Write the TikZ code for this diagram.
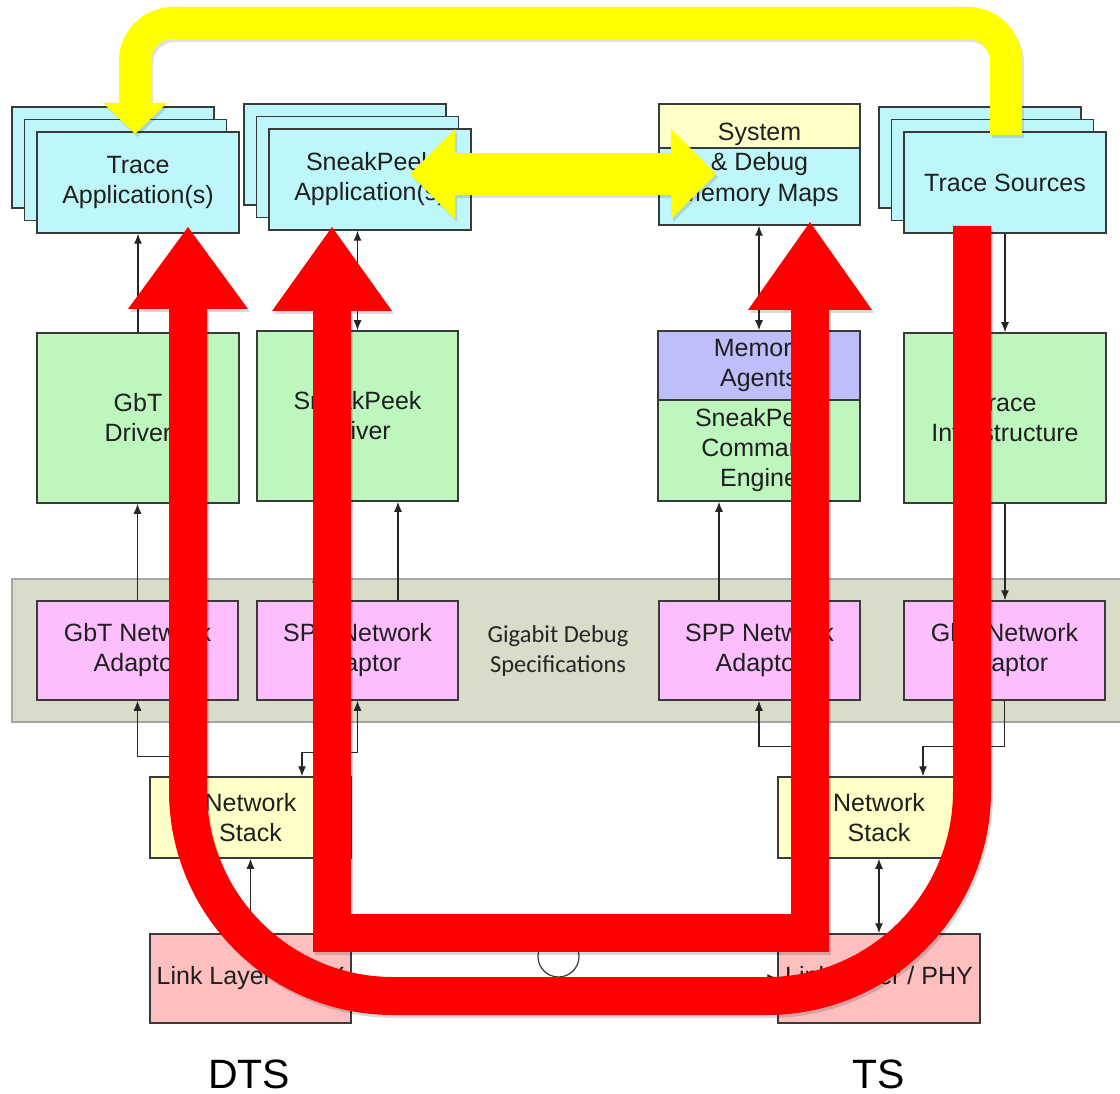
\documentclass[tikz,border=0pt]{standalone}
\usepackage{fontspec}
\setmainfont{Liberation Sans}
\newfontfamily\gigfont{Carlito}
\usetikzlibrary{arrows.meta}

\definecolor{edge}{RGB}{58,58,58}
\definecolor{appcyan}{RGB}{190,247,250}
\definecolor{drvgreen}{RGB}{190,247,190}
\definecolor{agtviolet}{RGB}{190,190,250}
\definecolor{adpmag}{RGB}{252,190,252}
\definecolor{stkyellow}{RGB}{255,255,200}
\definecolor{lnkpink}{RGB}{252,190,190}
\definecolor{bandgray}{RGB}{218,220,202}
\definecolor{routeyellow}{RGB}{255,255,0}
\definecolor{routered}{RGB}{255,0,0}

\tikzset{
  box/.style={draw=edge, line width=1.5pt, inner sep=0pt, align=center,
    text=black!88, font=\fontsize{25}{30}\selectfont, minimum width=202pt},
  arr/.style={draw=black!85, line width=1.2pt, -{Latex[length=10pt,width=8pt]}},
  darr/.style={draw=black!85, line width=1.2pt, {Latex[length=10pt,width=8pt]}-{Latex[length=10pt,width=8pt]}},
  side/.style={font=\fontsize{41}{41}\selectfont, text=black, inner sep=0pt},
}

% thick overlay routes, drawn once as shadow and once in colour
\newcommand\outerroute[1]{\draw[line width=38pt, rounded corners=205pt,
  -{Triangle[length=82pt,width=120pt,line width=0pt]}, #1]
  (972,226) -- (972,996) -- (188,996) -- (188,227);}
\newcommand\innerroute[1]{\draw[line width=38pt, line join=miter,
  {Triangle[length=84pt,width=120pt,line width=0pt]}-{Triangle[length=88pt,width=124pt,line width=0pt]}, #1]
  (332,227) -- (332,933) -- (810,933) -- (810,222);}
\newcommand\looproute[1]{\draw[line width=32pt, rounded corners=38pt,
  -{Triangle[length=31pt,width=64pt,line width=0pt]}, #1]
  (1006,135) -- (1006,23) -- (135,23) -- (135,134);}
\newcommand\barroute[1]{\draw[line width=42pt,
  {Triangle[length=45pt,width=90pt,line width=0pt]}-{Triangle[length=45pt,width=90pt,line width=0pt]}, #1]
  (410,174) -- (716,174);}

\begin{document}
\begin{tikzpicture}[x=1pt,y=-1pt]
\useasboundingbox (0,0) rectangle (1120,1094);
\fill[white] (0,0) rectangle (1120,1094);

% specification band
\node[draw=black!35, fill=bandgray, line width=1.2pt, inner sep=0pt,
  minimum width=1112pt, minimum height=143pt] (gds) at (568,650.5) {};
\node[align=center, text=black!85, font=\gigfont\fontsize{24.5}{30}\selectfont] (gdsl) at (558,651)
  {Gigabit Debug\\Specifications};

% top row: applications and sources
\node[box, fill=appcyan, minimum height=101pt] (tappC) at (113,157.5) {};
\node[box, fill=appcyan, minimum height=101pt] (tappB) at (125.5,170) {};
\node[box, fill=appcyan, minimum height=101pt] (tapp) at (138,182.5) {Trace\\Application(s)};

\node[box, fill=appcyan, minimum height=101pt] (sappC) at (345,154.5) {};
\node[box, fill=appcyan, minimum height=101pt] (sappB) at (357.5,167) {};
\node[box, fill=appcyan, minimum height=101pt] (sapp) at (370,179.5) {SneakPeek\\Application(s)};

\node[box, fill=stkyellow, minimum width=201pt, minimum height=44pt] (msys) at (759.5,126) {};
\node[box, fill=appcyan, minimum width=201pt, minimum height=77pt] (mmaps) at (759.5,186.5) {};
\node[align=center, text=black!88, font=\fontsize{25}{30.5}\selectfont] (mmtxt) at (759.5,164.5)
  {System\\\& Debug\\Memory Maps};

\node[box, fill=appcyan, minimum height=101pt] (tsrcC) at (980,157.5) {};
\node[box, fill=appcyan, minimum height=101pt] (tsrcB) at (992.5,170) {};
\node[box, fill=appcyan, minimum height=101pt] (tsrc) at (1005,182.5) {Trace Sources};

% second row: drivers and engines
\node[box, fill=drvgreen, minimum height=170pt] (gdrv) at (138,418) {GbT\\Driver};
\node[box, fill=drvgreen, minimum width=201pt, minimum height=170pt] (sdrv) at (357.5,416) {SneakPeek\\Driver};
\node[box, fill=agtviolet, minimum height=69pt] (magt) at (759,365.5) {Memory\\Agents};
\node[box, fill=drvgreen, minimum height=101pt] (ceng) at (759,450.5) {SneakPeek\\Command\\Engine};
\node[box, fill=drvgreen, minimum height=170pt] (tinf) at (1005,418) {Trace\\Infrastructure};

% network adaptors
\node[box, fill=adpmag, minimum width=201pt, minimum height=99pt] (gad) at (137.5,650.5) {GbT Network\\Adaptor};
\node[box, fill=adpmag, minimum width=201pt, minimum height=99pt] (sad) at (357.5,650.5) {SPP Network\\Adaptor};
\node[box, fill=adpmag, minimum width=201pt, minimum height=99pt] (sppr) at (759.5,650.5) {SPP Network\\Adaptor};
\node[box, fill=adpmag, minimum width=201pt, minimum height=99pt] (gadr) at (1004.5,650.5) {GbT Network\\Adaptor};

% network stacks and link layers
\node[box, fill=stkyellow, minimum width=201pt, minimum height=81pt] (nsl) at (250.5,817.5) {Network\\Stack};
\node[box, fill=stkyellow, minimum height=81pt] (nsr) at (879,817.5) {Network\\Stack};
\node[box, fill=lnkpink, minimum width=201pt, minimum height=89pt] (lll) at (250.5,978.5) {Link Layer / PHY};
\node[box, fill=lnkpink, minimum height=89pt] (llr) at (879,978.5) {Link Layer / PHY};

\node[side] (dts) at (249,1074) {DTS};
\node[side] (ts) at (879,1074) {TS};

% data flow connectors
\draw[arr] (gdrv.north) -- (tapp.south);
\draw[darr] (sdrv.north) -- (sdrv.north |- sapp.south);
\draw[darr] (magt.north) -- (magt.north |- mmaps.south);
\draw[arr] (tsrc.south) -- (tinf.north);
\draw[arr] (gad.north) -- (gad.north |- gdrv.south);
\draw[arr] ([xshift=40.5pt]sad.north) -- ([xshift=40.5pt]sad.north |- sdrv.south);
\coordinate (sdtip) at (316,591);
\draw[arr] (sdrv.south -| sdtip) -- (sdtip);
\draw[arr] ([xshift=-40.5pt]sppr.north) -- ([xshift=-40.5pt]sppr.north |- ceng.south);
\draw[arr] (tinf.south) -- (tinf.south |- gadr.north);

\draw[arr] ([xshift=-65.5pt]nsl.north) -- ++(0,-20) -| (gad.south);
\draw[darr] (sad.south) -- ++(0,52) -| ([xshift=51.5pt]nsl.north);
\draw[arr] ([xshift=-69pt]nsr.north) -- ++(0,-30) -| ([xshift=-0.5pt]sppr.south);
\draw[arr] (gadr.south) -- ++(0,46) -| ([xshift=44pt]nsr.north);
\draw[arr] (lll.north) -- (nsl.south);
\draw[darr] (nsr.south) -- (llr.north);
\draw[arr] ([yshift=0.5pt]lll.east) -- ([yshift=0.5pt]llr.west);
\node[draw=edge, line width=1.2pt, circle, minimum size=41pt, inner sep=0pt] (hop) at (558.5,956.5) {};

% soft shadows of the overlay routes
\begin{scope}[shift={(2,3)}]
  \outerroute{draw=black, opacity=0.15}
  \innerroute{draw=black, opacity=0.15}
  \looproute{draw=black, opacity=0.12}
  \barroute{draw=black, opacity=0.12}
\end{scope}

% overlay routes
\outerroute{draw=routered}
\innerroute{draw=routered}
\looproute{draw=routeyellow}
\barroute{draw=routeyellow}
\end{tikzpicture}
\end{document}
